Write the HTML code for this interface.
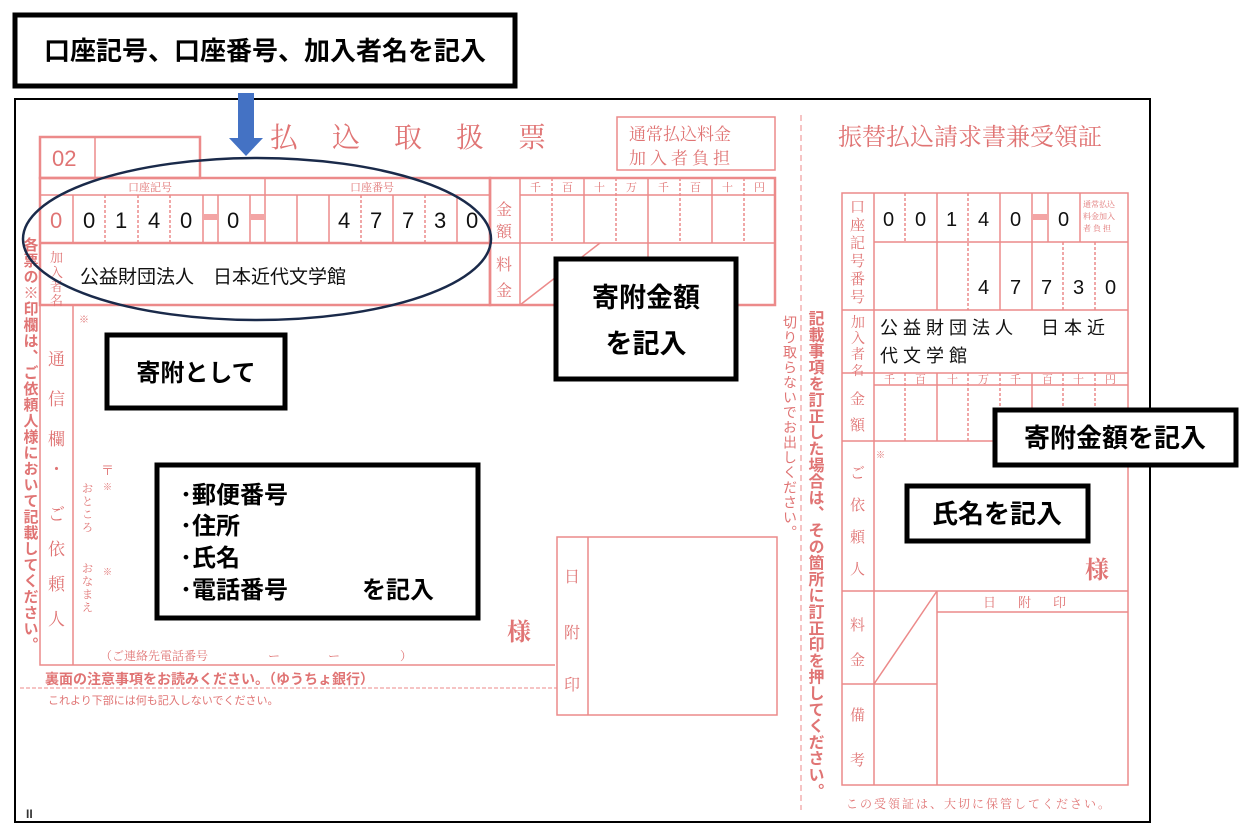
<!DOCTYPE html>
<html><head><meta charset="utf-8"><style>
html,body{margin:0;padding:0;background:#fff;}
svg{display:block;}
.r{fill:#e07474;font-family:"Liberation Serif","Noto Serif CJK SC",serif;}
.rs{fill:#e07474;font-family:"Liberation Sans","Noto Sans CJK JP",sans-serif;}
.k{fill:#111;font-family:"Liberation Sans","Noto Sans CJK JP",sans-serif;}
.kb{fill:#000;font-family:"Liberation Sans","Noto Sans CJK JP",sans-serif;font-weight:bold;}
</style></head><body>
<svg width="1247" height="835" viewBox="0 0 1247 835" xmlns="http://www.w3.org/2000/svg">
<rect width="1247" height="835" fill="#fff"/>
<rect x="15" y="99" width="1135" height="723" fill="none" stroke="#000" stroke-width="2"/>
<g stroke="#ec8a8a" fill="none" stroke-width="1.5">
<rect x="617" y="117" width="158" height="53"/>
<rect x="40" y="137" width="160" height="41" stroke-width="2.5"/>
<line x1="95" y1="137" x2="95" y2="178"/>
<rect x="40" y="178" width="450" height="127" stroke-width="2.5"/>
<line x1="40" y1="195" x2="490" y2="195"/>
<line x1="265" y1="178" x2="265" y2="243"/>
<line x1="40" y1="243" x2="490" y2="243" stroke-width="2.5"/>
<line x1="73" y1="195" x2="73" y2="243"/>
<line x1="105" y1="195" x2="105" y2="243" stroke-dasharray="3,2"/>
<line x1="138" y1="195" x2="138" y2="243" stroke-dasharray="3,2"/>
<line x1="170" y1="195" x2="170" y2="243" stroke-dasharray="3,2"/>
<line x1="203" y1="195" x2="203" y2="243"/>
<line x1="218" y1="195" x2="218" y2="243"/>
<line x1="250" y1="195" x2="250" y2="243"/>
<line x1="297" y1="195" x2="297" y2="243"/>
<line x1="329" y1="195" x2="329" y2="243"/>
<line x1="361" y1="195" x2="361" y2="243" stroke-dasharray="3,2"/>
<line x1="393" y1="195" x2="393" y2="243"/>
<line x1="425" y1="195" x2="425" y2="243" stroke-dasharray="3,2"/>
<line x1="457" y1="195" x2="457" y2="243"/>
<rect x="490" y="178" width="285" height="127" stroke-width="2.5"/>
<line x1="520" y1="178" x2="520" y2="305"/>
<line x1="520" y1="195" x2="775" y2="195"/>
<line x1="490" y1="243" x2="775" y2="243"/>
<line x1="552" y1="178" x2="552" y2="243" stroke-dasharray="3,2"/>
<line x1="584" y1="178" x2="584" y2="243"/>
<line x1="616" y1="178" x2="616" y2="243" stroke-dasharray="3,2"/>
<line x1="648" y1="178" x2="648" y2="305"/>
<line x1="680" y1="178" x2="680" y2="243" stroke-dasharray="3,2"/>
<line x1="712" y1="178" x2="712" y2="243"/>
<line x1="744" y1="178" x2="744" y2="243" stroke-dasharray="3,2"/>
<line x1="520" y1="305" x2="600" y2="243"/>
<polyline points="40,305 40,665 555,665"/>
<line x1="73" y1="305" x2="73" y2="665"/>
<rect x="557" y="537" width="220" height="178"/>
<line x1="588" y1="537" x2="588" y2="715"/>
<line x1="20" y1="688" x2="557" y2="688" stroke-dasharray="4,2" stroke-width="1"/>
<line x1="801" y1="115" x2="801" y2="810" stroke-dasharray="6,4" stroke-width="1"/>
<!-- right form -->
<rect x="842" y="193" width="286" height="592"/>
<line x1="874" y1="193" x2="874" y2="785"/>
<line x1="874" y1="242" x2="1128" y2="242"/>
<line x1="842" y1="310" x2="1128" y2="310"/>
<line x1="842" y1="373" x2="1128" y2="373"/>
<line x1="874" y1="385" x2="1128" y2="385"/>
<line x1="842" y1="441" x2="1128" y2="441"/>
<line x1="842" y1="591" x2="1128" y2="591"/>
<line x1="842" y1="684" x2="937" y2="684"/>
<line x1="937" y1="591" x2="937" y2="785"/>
<line x1="937" y1="612" x2="1128" y2="612"/>
<line x1="874" y1="684" x2="937" y2="591"/>
<line x1="905" y1="193" x2="905" y2="242" stroke-dasharray="3,2"/>
<line x1="937" y1="193" x2="937" y2="310"/>
<line x1="968" y1="193" x2="968" y2="310" stroke-dasharray="3,2"/>
<line x1="1000" y1="193" x2="1000" y2="310"/>
<line x1="1032" y1="193" x2="1032" y2="310"/>
<line x1="1048" y1="193" x2="1048" y2="242"/>
<line x1="1080" y1="193" x2="1080" y2="242"/>
<line x1="1063" y1="242" x2="1063" y2="310" stroke-dasharray="3,2"/>
<line x1="1095" y1="242" x2="1095" y2="310" stroke-dasharray="3,2"/>
<line x1="905" y1="373" x2="905" y2="441" stroke-dasharray="3,2"/>
<line x1="937" y1="373" x2="937" y2="441"/>
<line x1="968" y1="373" x2="968" y2="441" stroke-dasharray="3,2"/>
<line x1="1000" y1="373" x2="1000" y2="441" stroke-dasharray="3,2"/>
<line x1="1032" y1="373" x2="1032" y2="441"/>
<line x1="1063" y1="373" x2="1063" y2="441" stroke-dasharray="3,2"/>
<line x1="1095" y1="373" x2="1095" y2="441" stroke-dasharray="3,2"/>
</g>
<rect x="204" y="214" width="13" height="6" fill="#f3a5a5"/>
<rect x="251" y="214" width="13" height="6" fill="#f3a5a5"/>
<rect x="1033" y="214" width="14" height="6" fill="#f3a5a5"/>
<!-- left form text -->
<text class="r" x="270" y="147" font-size="28" letter-spacing="34">払込取扱票</text>
<text class="r" x="629" y="140" font-size="17">通常払込料金</text>
<text class="r" x="629" y="164" font-size="17" letter-spacing="4">加入者負担</text>
<text class="rs" x="52" y="166" font-size="22">02</text>
<text class="r" x="128" y="191" font-size="11">口座記号</text>
<text class="r" x="350" y="191" font-size="11">口座番号</text>
<g class="k" font-size="22" font-family="Liberation Sans">
<text x="50" y="228" fill="#e07474">0</text>
<text x="83" y="228">0</text><text x="115" y="228">1</text><text x="148" y="228">4</text><text x="180" y="228">0</text>
<text x="227" y="228">0</text>
<text x="338" y="228">4</text><text x="370" y="228">7</text><text x="402" y="228">7</text><text x="434" y="228">3</text><text x="466" y="228">0</text>
</g>
<text class="r" x="50" y="262" font-size="13">加</text>
<text class="r" x="50" y="277" font-size="13">入</text>
<text class="r" x="50" y="291" font-size="13">者</text>
<text class="r" x="50" y="305" font-size="13">名</text>
<text class="k" x="80" y="283" font-size="19" font-family="Liberation Serif,Noto Serif CJK SC,serif">公益財団法人　日本近代文学館</text>
<text class="r" x="496" y="215" font-size="16">金</text>
<text class="r" x="496" y="237" font-size="16">額</text>
<text class="r" x="496" y="270" font-size="16">料</text>
<text class="r" x="496" y="296" font-size="16">金</text>
<g class="r" font-size="11">
<text x="530" y="191">千</text><text x="562" y="191">百</text><text x="594" y="191">十</text><text x="626" y="191">万</text><text x="658" y="191">千</text><text x="690" y="191">百</text><text x="722" y="191">十</text><text x="754" y="191">円</text>
</g>
<text class="r" x="79" y="323" font-size="10">※</text>
<g class="r" font-size="17">
<text x="48" y="365">通</text><text x="48" y="405">信</text><text x="48" y="445">欄</text><text x="48" y="475">・</text><text x="48" y="520">ご</text><text x="48" y="555">依</text><text x="48" y="590">頼</text><text x="48" y="625">人</text>
</g>
<text class="r" x="101" y="475" font-size="13">〒</text>
<text class="r" x="103" y="490" font-size="9">※</text>
<text class="r" x="103" y="575" font-size="9">※</text>
<g class="r" font-size="11">
<text x="82" y="492">お</text><text x="82" y="505">と</text><text x="82" y="518">こ</text><text x="82" y="531">ろ</text>
<text x="82" y="572">お</text><text x="82" y="585">な</text><text x="82" y="598">ま</text><text x="82" y="611">え</text>
</g>
<text class="r" x="100" y="660" font-size="12">（ご連絡先電話番号　　　　　ー　　　　ー　　　　　）</text>
<text class="r" x="507" y="640" font-size="24" font-weight="bold">様</text>
<text class="r" x="564" y="582" font-size="16">日</text>
<text class="r" x="564" y="638" font-size="16">附</text>
<text class="r" x="564" y="690" font-size="16">印</text>
<text class="rs" x="45" y="684" font-size="14" font-weight="bold">裏面の注意事項をお読みください。（ゆうちょ銀行）</text>
<text class="rs" x="48" y="704" font-size="11">これより下部には何も記入しないでください。</text>
<text class="rs" font-size="15" font-weight="bold" style="writing-mode:vertical-rl" x="30" y="237" letter-spacing="1">各票の※印欄は、ご依頼人様において記載してください。</text>
<text class="rs" font-size="14" style="writing-mode:vertical-rl" x="790" y="315" letter-spacing="1">切り取らないでお出しください。</text>
<text class="rs" font-size="16" font-weight="bold" style="writing-mode:vertical-rl" x="814" y="310" letter-spacing="0.3">記載事項を訂正した場合は、その箇所に訂正印を押してください。</text>
<!-- right form text -->
<text class="r" x="838" y="145" font-size="24">振替払込請求書兼受領証</text>
<g class="r" font-size="15">
<text x="850" y="212">口</text><text x="850" y="230">座</text><text x="850" y="248">記</text><text x="850" y="266">号</text><text x="850" y="284">番</text><text x="850" y="302">号</text>
</g>
<g class="r" font-size="14">
<text x="851" y="327">加</text><text x="851" y="343">入</text><text x="851" y="359">者</text><text x="851" y="375" font-size="13">名</text>
<text x="850" y="404" font-size="15">金</text><text x="850" y="430" font-size="15">額</text>
<text x="850" y="478" font-size="15">ご</text><text x="850" y="510" font-size="15">依</text><text x="850" y="542" font-size="15">頼</text><text x="850" y="574" font-size="15">人</text>
<text x="850" y="630" font-size="15">料</text><text x="850" y="665" font-size="15">金</text>
<text x="850" y="720" font-size="15">備</text><text x="850" y="765" font-size="15">考</text>
</g>
<g class="r" font-size="8">
<text x="1083" y="207">通常払込</text><text x="1083" y="219">料金加入</text><text x="1083" y="231">者 負 担</text>
</g>
<g class="k" font-size="20" font-family="Liberation Sans">
<text x="883" y="226">0</text><text x="915" y="226">0</text><text x="946" y="226">1</text><text x="978" y="226">4</text><text x="1010" y="226">0</text><text x="1058" y="226">0</text>
<text x="978" y="294">4</text><text x="1010" y="294">7</text><text x="1041" y="294">7</text><text x="1073" y="294">3</text><text x="1105" y="294">0</text>
</g>
<text class="k" x="880" y="334" font-size="18" letter-spacing="5" font-family="Liberation Serif,Noto Serif CJK SC,serif">公益財団法人　日本近</text>
<text class="k" x="880" y="362" font-size="18" letter-spacing="5" font-family="Liberation Serif,Noto Serif CJK SC,serif">代文学館</text>
<g class="r" font-size="11">
<text x="884" y="383">千</text><text x="915" y="383">百</text><text x="947" y="383">十</text><text x="978" y="383">万</text><text x="1010" y="383">千</text><text x="1042" y="383">百</text><text x="1073" y="383">十</text><text x="1105" y="383">円</text>
</g>
<text class="r" x="876" y="458" font-size="9">※</text>
<text class="r" x="1085" y="578" font-size="24" font-weight="bold">様</text>
<text class="r" x="983" y="607" font-size="13" letter-spacing="22">日附印</text>
<text class="r" x="846" y="808" font-size="12" letter-spacing="2">この受領証は、大切に保管してください。</text>
<text x="26" y="818" font-size="12" font-weight="bold" fill="#333" font-family="Liberation Sans">II</text>
<!-- annotations -->
<ellipse cx="257" cy="239" rx="234" ry="81" fill="none" stroke="#1a2a4a" stroke-width="2.5"/>
<rect x="238" y="93" width="16" height="47" fill="#4472c4"/>
<polygon points="229,138 263,138 246,156" fill="#4472c4"/>
<rect x="15" y="15" width="500" height="71" fill="#fff" stroke="#000" stroke-width="5"/>
<text class="kb" x="265" y="60" font-size="26" text-anchor="middle">口座記号、口座番号、加入者名を記入</text>
<rect x="107" y="335" width="178" height="73" fill="#fff" stroke="#000" stroke-width="5"/>
<text class="kb" x="196" y="381" font-size="24" text-anchor="middle">寄附として</text>
<rect x="556" y="259" width="180" height="120" fill="#fff" stroke="#000" stroke-width="5"/>
<text class="kb" x="646" y="307" font-size="27" text-anchor="middle">寄附金額</text>
<text class="kb" x="646" y="353" font-size="27" text-anchor="middle">を記入</text>
<rect x="157" y="465" width="321" height="153" fill="#fff" stroke="#000" stroke-width="5"/>
<g class="kb" font-size="24">
<text x="180" y="503">･郵便番号</text>
<text x="180" y="534">･住所</text>
<text x="180" y="566">･氏名</text>
<text x="180" y="598">･電話番号</text>
<text x="362" y="598">を記入</text>
</g>
<rect x="995" y="410" width="241" height="55" fill="#fff" stroke="#000" stroke-width="5"/>
<text class="kb" x="1115" y="447" font-size="26" text-anchor="middle">寄附金額を記入</text>
<rect x="907" y="486" width="181" height="55" fill="#fff" stroke="#000" stroke-width="5"/>
<text class="kb" x="997" y="523" font-size="26" text-anchor="middle">氏名を記入</text>
</svg>
</body></html>
